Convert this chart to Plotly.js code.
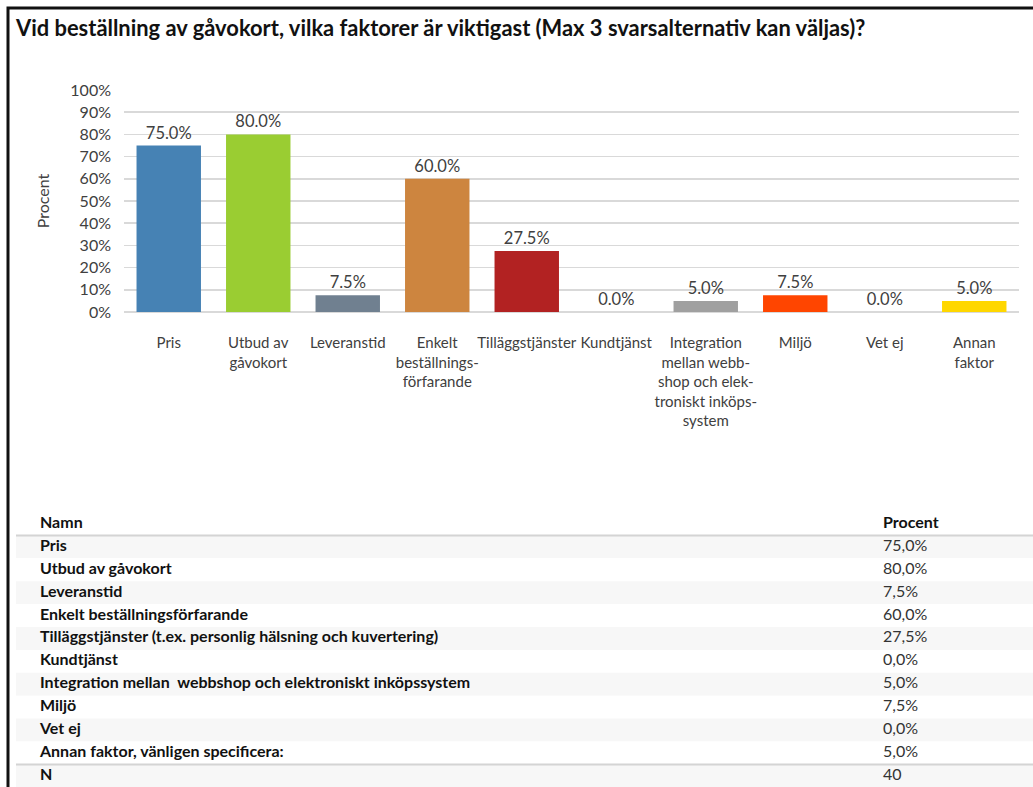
<!DOCTYPE html>
<html><head><meta charset="utf-8">
<script src="https://cdn.plot.ly/plotly-3.0.1.min.js"></script>
<style>html,body{margin:0;padding:0;background:#fff}#chart{width:1033px;height:787px}</style>
</head><body><div id="chart"></div>
<script>
// ---- data ----
const categories = ['Pris','Utbud','Leveranstid','Enkelt','Tillaggstjanster','Kundtjanst','Integration','Miljo','VetEj','Annan'];
const tickLabels = ['Pris','Utbud av<br>gåvokort','Leveranstid','Enkelt<br>beställnings-<br>förfarande','Tilläggstjänster','Kundtjänst','Integration<br>mellan webb-<br>shop och elek-<br>troniskt inköps-<br>system','Miljö','Vet ej','Annan<br>faktor'];
const values = [0.75, 0.80, 0.075, 0.60, 0.275, 0.0, 0.05, 0.075, 0.0, 0.05];
const barColors = ['#4682B4','#9ACD32','#708090','#CD853F','#B22222','#87CEEB','#A0A0A0','#FF4500','#808080','#FFD700'];
const tableHeader = ['Namn', 'Procent'];
const tableNames = ['Pris','Utbud av gåvokort','Leveranstid','Enkelt beställningsförfarande','Tilläggstjänster (t.ex. personlig hälsning och kuvertering)','Kundtjänst','Integration mellan  webbshop och elektroniskt inköpssystem','Miljö','Vet ej','Annan faktor, vänligen specificera:'];
const nLabel = 'N';
const nValue = 40;
const yTicks = [0,0.1,0.2,0.3,0.4,0.5,0.6,0.7,0.8,0.9,1.0];
const titleText = 'Vid beställning av gåvokort, vilka faktorer är viktigast (Max 3 svarsalternativ kan väljas)?';

// ---- helpers ----
const W = 1033, H = 787;
const px = v => v / W;
const py = v => 1 - v / H;
const FONT = 'Lato, "Open Sans", sans-serif';
const ROW_H = 22.9;

const pctComma = v => (v*100).toFixed(1).replace('.', ',') + '%';

// table rows: 0 = header, 1..10 = factors, 11 = N
const rowNames = [tableHeader[0], ...tableNames, nLabel];
const rowVals = [tableHeader[1], ...values.map(pctComma), String(nValue)];
const rowIdx = rowNames.map((_, i) => i);
const bodyIdx = rowIdx.slice(1);
const bodyFill = bodyIdx.map(i => (i % 2 === 1) ? '#f7f7f7' : '#ffffff');

// x2 in pixel-like units from table left (16px) to right edge
const tX0 = 16, tX1 = W;
const nameX = 40 - tX0;
const valX = 883 - tX0;

const bar = {
  type: 'bar',
  x: categories,
  y: values,
  marker: {color: barColors, line: {width: 0}},
  texttemplate: '%{y:.1%}',
  textposition: 'outside',
  textfont: {family: FONT, size: 16.5, color: '#404040'},
  cliponaxis: false,
  hoverinfo: 'skip',
  xaxis: 'x', yaxis: 'y'
};

const rowBg = {
  type: 'bar',
  orientation: 'h',
  x: bodyIdx.map(() => tX1 - tX0),
  y: bodyIdx,
  base: 0,
  width: 1,
  marker: {color: bodyFill, line: {width: 0}},
  hoverinfo: 'skip',
  xaxis: 'x2', yaxis: 'y2'
};

const nameText = {
  type: 'scatter',
  mode: 'text',
  x: rowIdx.map(() => nameX),
  y: rowIdx,
  text: rowNames.map(s => '<b>' + s + '</b>'),
  textposition: 'middle right',
  textfont: {family: FONT, size: 16, color: '#111111'},
  cliponaxis: false,
  hoverinfo: 'skip',
  xaxis: 'x2', yaxis: 'y2'
};

const valText = {
  type: 'scatter',
  mode: 'text',
  x: rowIdx.map(() => valX),
  y: rowIdx,
  text: rowVals.map((s, i) => i === 0 ? '<b>' + s + '</b>' : s),
  textposition: 'middle right',
  textfont: {family: FONT, size: 16, color: rowIdx.map(i => i === 0 ? '#111111' : '#333333')},
  cliponaxis: false,
  hoverinfo: 'skip',
  xaxis: 'x2', yaxis: 'y2'
};

const tableTop = 512.5;
const nRows = rowNames.length;

const layout = {
  width: W, height: H,
  margin: {l: 0, r: 0, t: 0, b: 0},
  paper_bgcolor: '#ffffff',
  plot_bgcolor: 'rgba(0,0,0,0)',
  showlegend: false,
  bargap: 0.28,
  font: {family: FONT, size: 16, color: '#404040'},
  title: {
    text: '<b>' + titleText + '</b>',
    x: px(16), xanchor: 'left', xref: 'paper',
    y: py(28), yanchor: 'middle', yref: 'paper',
    font: {family: FONT, size: 21.9, color: '#111111'}
  },
  xaxis: {
    domain: [px(124), px(1019)],
    anchor: 'y',
    type: 'category',
    tickvals: categories,
    ticktext: tickLabels,
    tickangle: 0,
    ticks: '',
    ticklabelstandoff: 20,
    showgrid: false,
    showline: false,
    zeroline: false,
    tickfont: {family: FONT, size: 15, color: '#404040'},
    fixedrange: true
  },
  yaxis: {
    domain: [py(312), py(90)],
    anchor: 'x',
    range: [0, 1],
    tickvals: yTicks,
    tickformat: '.0%',
    ticks: '',
    ticklabelstandoff: 12,
    showgrid: true,
    gridcolor: '#d9d9d9',
    gridwidth: 1.5,
    zeroline: true,
    zerolinecolor: '#d9d9d9',
    zerolinewidth: 2,
    showline: false,
    tickfont: {family: FONT, size: 16, color: '#404040'},
    title: {text: 'Procent', standoff: 16, font: {family: FONT, size: 16, color: '#404040'}},
    fixedrange: true
  },
  xaxis2: {
    domain: [px(tX0), 1],
    anchor: 'y2',
    range: [0, tX1 - tX0],
    visible: false,
    fixedrange: true
  },
  yaxis2: {
    domain: [0, py(tableTop)],
    anchor: 'x2',
    range: [-0.5 + (H - tableTop) / ROW_H, -0.5],
    visible: false,
    fixedrange: true
  },
  shapes: [
    {type: 'line', xref: 'x2', yref: 'y2', x0: 0, x1: tX1 - tX0, y0: 0.5, y1: 0.5, line: {color: '#d4d4d4', width: 2}},
    {type: 'line', xref: 'x2', yref: 'y2', x0: 0, x1: tX1 - tX0, y0: nRows - 1.5, y1: nRows - 1.5, line: {color: '#d4d4d4', width: 2}},
    {type: 'rect', xref: 'paper', yref: 'paper', x0: px(8), x1: 1.05, y0: -0.05, y1: py(8), line: {color: '#111111', width: 3}, fillcolor: 'rgba(0,0,0,0)', layer: 'above'}
  ]
};

Plotly.newPlot('chart', [bar, rowBg, nameText, valText], layout, {staticPlot: true, displayModeBar: false});
</script>
</body></html>
